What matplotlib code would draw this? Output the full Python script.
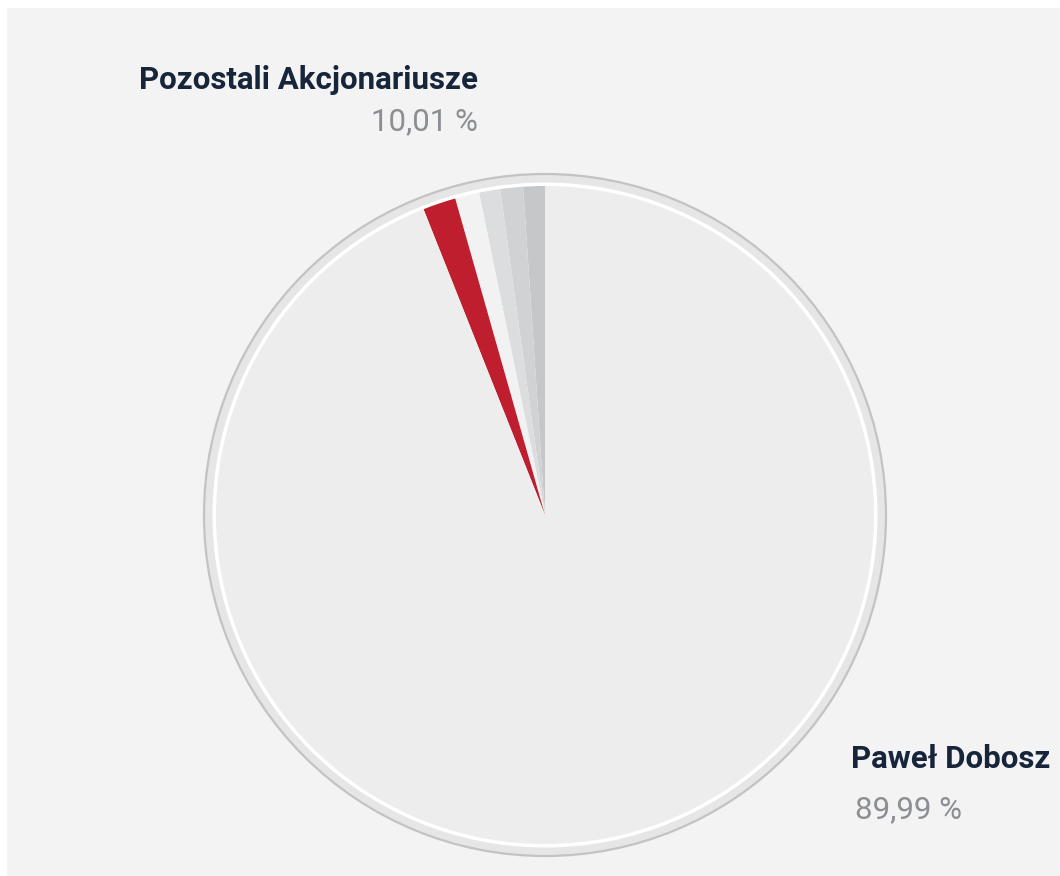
import matplotlib
matplotlib.use("Agg")
import matplotlib.pyplot as plt
from matplotlib.patches import Circle, Rectangle

# Data
labels = ["Pozostali Akcjonariusze", "Paweł Dobosz"]
label_values = ["10,01 %", "89,99 %"]
slice_names = ["s1", "s2", "s3", "s4", "s5", "Paweł Dobosz"]
slice_values = [1.06, 1.12, 1.03, 1.19, 1.62, 93.98]
slice_colors = ["#c6c7c9", "#d1d2d4", "#dcdddf", "#f2f2f2", "#be1e2d", "#ededed"]

fam = "Roboto"

W, H = 1060, 876
fig = plt.figure(figsize=(W / 100, H / 100), dpi=100, facecolor="white")
ax = fig.add_axes([0, 0, 1, 1])
ax.set_xlim(0, W)
ax.set_ylim(H, 0)
ax.set_aspect("equal")
ax.axis("off")

ax.add_patch(Rectangle((7, 8), W, H, facecolor="#f3f3f3", edgecolor="none", zorder=0))

cx, cy = 545, 515
ax.add_patch(Circle((cx, cy), 341, facecolor="#e6e6e7", edgecolor="#c2c3c5", lw=1.6, zorder=1))
ax.add_patch(Circle((cx, cy), 332.5, facecolor="white", edgecolor="none", zorder=2))

wedges, _ = ax.pie(slice_values, colors=slice_colors, startangle=90, counterclock=True,
                   center=(cx, cy), radius=329, wedgeprops=dict(linewidth=0, antialiased=True))
for w in wedges:
    w.set_zorder(3)
    # the inverted y-axis mirrors angles; flip theta so slices sit left of the top
    t1, t2 = w.theta1, w.theta2
    w.set_theta1(-t2)
    w.set_theta2(-t1)
ax.set_xlim(0, W)
ax.set_ylim(H, 0)

dark = "#17253b"
grey = "#8b8e92"
ax.text(478, 89, labels[0], ha="right", va="baseline", fontsize=22.5, fontweight="bold",
        color=dark, family=fam, zorder=5)
ax.text(478, 130, label_values[0], ha="right", va="baseline", fontsize=22.5,
        color=grey, family=fam, zorder=5)
ax.text(851, 768, labels[1], ha="left", va="baseline", fontsize=22.5, fontweight="bold",
        color=dark, family=fam, zorder=5)
ax.text(855, 818, label_values[1], ha="left", va="baseline", fontsize=22.5,
        color=grey, family=fam, zorder=5)

fig.savefig("out.png", dpi=100, facecolor="white")
